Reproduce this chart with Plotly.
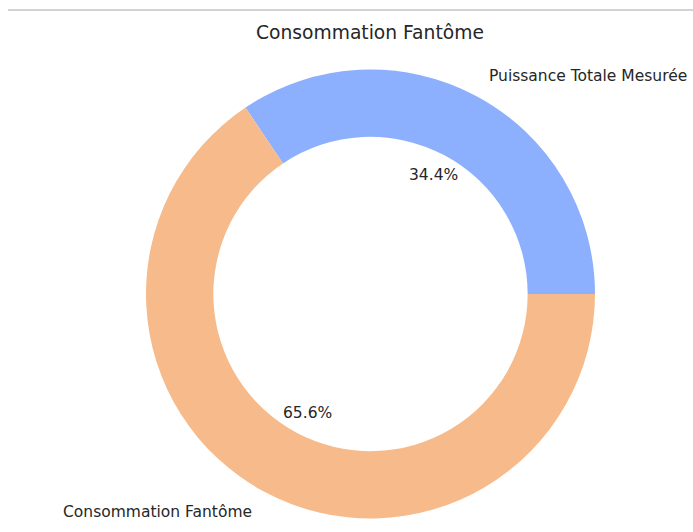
import math
import plotly.graph_objects as go

# Slice data
labels = ["Puissance Totale Mesurée", "Consommation Fantôme"]
values = [34.4, 65.6]
colors = ["#8CAFFE", "#F7BA8A"]

W, H = 693, 532
CX, CY, R = 370.5, 294.0, 224.5   # ring centre and outer radius, px
HOLE = 0.7
LABEL_DIST = 1.1
PCT_DIST = 0.6
TEXT_COLOR = "#262626"
FONT = "DejaVu Sans"

total = sum(values)
# plotly places the first counterclockwise slice clockwise of `rotation`;
# shift it so the first slice begins at 3 o'clock and runs counterclockwise
rotation = 90 - 360.0 * values[0] / total

fig = go.Figure(
    go.Pie(
        labels=labels,
        values=values,
        hole=HOLE,
        sort=False,
        direction="counterclockwise",
        rotation=rotation,
        marker=dict(colors=colors, line=dict(width=0)),
        textinfo="none",
        hoverinfo="label+percent",
        showlegend=False,
        domain=dict(x=[(CX - R) / W, (CX + R) / W],
                    y=[(H - (CY + R)) / H, (H - (CY - R)) / H]),
    )
)


def to_paper(r, deg):
    a = math.radians(deg)
    return (CX + r * math.cos(a)) / W, (H - (CY - r * math.sin(a))) / H


annotations = []
start = 0.0
for lab, v in zip(labels, values):
    span = 360.0 * v / total
    mid = start + span / 2
    lx, ly = to_paper(R * LABEL_DIST, mid)
    annotations.append(dict(
        x=lx, y=ly, xref="paper", yref="paper", text=lab, showarrow=False,
        xanchor="left" if math.cos(math.radians(mid)) > 0 else "right",
        yanchor="middle", font=dict(family=FONT, size=15.5, color=TEXT_COLOR)))
    px_, py_ = to_paper(R * PCT_DIST, mid)
    annotations.append(dict(
        x=px_, y=py_, xref="paper", yref="paper", text=f"{100 * v / total:.1f}%",
        showarrow=False, xanchor="center", yanchor="middle",
        font=dict(family=FONT, size=15.5, color=TEXT_COLOR)))
    start += span

# Title
annotations.append(dict(
    x=370 / W, y=(H - 33) / H, xref="paper", yref="paper",
    text="Consommation Fantôme", showarrow=False, xanchor="center", yanchor="middle",
    font=dict(family=FONT, size=18.7, color=TEXT_COLOR)))

fig.update_layout(
    width=W, height=H,
    margin=dict(l=0, r=0, t=0, b=0),
    paper_bgcolor="white",
    plot_bgcolor="white",
    annotations=annotations,
    shapes=[dict(type="line", xref="paper", yref="paper",
                 x0=8 / W, x1=1, y0=(H - 10) / H, y1=(H - 10) / H,
                 line=dict(color="#C4C4C4", width=1.5))],
)

fig.write_html("out.html")
